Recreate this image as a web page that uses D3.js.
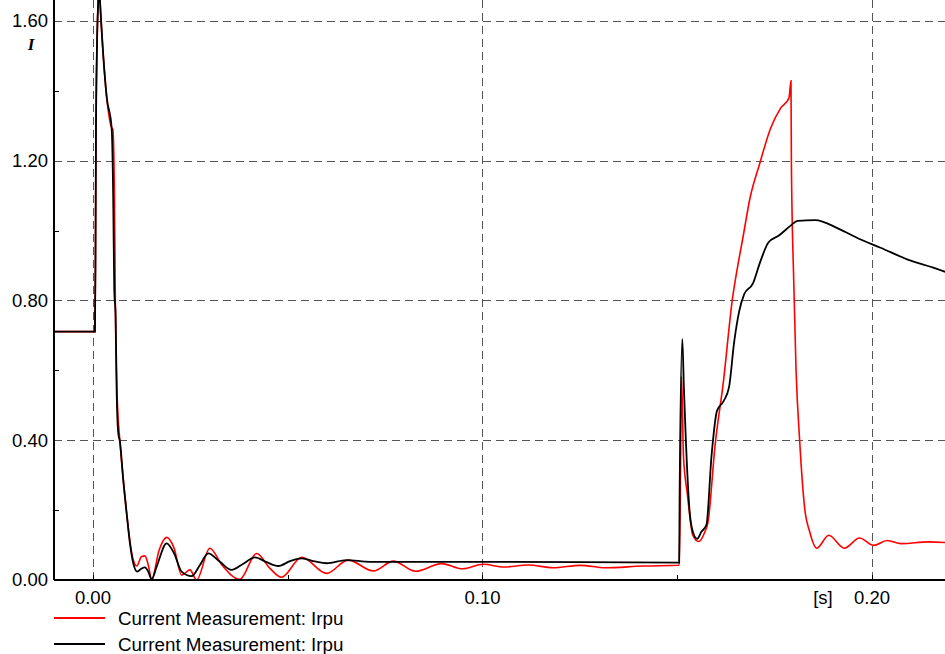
<!DOCTYPE html>
<html>
<head>
<meta charset="utf-8">
<script src="https://cdn.jsdelivr.net/npm/d3@7"></script>
<style>
  html, body { margin: 0; padding: 0; background: #fff; }
  svg { display: block; font-family: "Liberation Sans", Arial, sans-serif; }
</style>
</head>
<body>
<div id="chart"></div>
<script>
// time in seconds, current in pu
const xTicks = [0.00, 0.10, 0.20];
const xMinorTicks = [0.05, 0.15];
const yTicks = [0.00, 0.40, 0.80, 1.20, 1.60];
const yMinorTicks = [0.20, 0.60, 1.00, 1.40];
const legendLabels = ['Current Measurement: Irpu', 'Current Measurement: Irpu'];

const redTime = [-0.0100, 0.00051, 0.00064, 0.00077, 0.00103, 0.00136, 0.00154, 0.0018, 0.00352, 0.0048,
  0.0051, 0.00552, 0.00578, 0.0062, 0.0069, 0.0078, 0.00865, 0.0095, 0.01035, 0.01122,
  0.0125, 0.01335, 0.0142, 0.01507, 0.0170, 0.01892, 0.0208, 0.02277, 0.0249, 0.0266,
  0.0300, 0.0331, 0.0377, 0.0420, 0.0454, 0.0484, 0.0536, 0.0600, 0.0655, 0.0720,
  0.0771, 0.0828, 0.0895, 0.0949, 0.1002, 0.1055, 0.1118, 0.1181, 0.1252, 0.1315,
  0.1412, 0.1505, 0.15077, 0.1511, 0.1516, 0.1526, 0.1540, 0.1555, 0.1571, 0.1579,
  0.1597, 0.1619, 0.1641, 0.1655, 0.1668, 0.1687, 0.1712, 0.1739, 0.1765, 0.1787,
  0.1792, 0.1793, 0.1799, 0.1805, 0.1814, 0.1827, 0.1840, 0.1858, 0.1889, 0.1929,
  0.1968, 0.2004, 0.2039, 0.2074, 0.2145, 0.2210];
const redValue = [0.711, 0.711, 0.899, 1.274, 1.526, 1.660, 1.717, 1.660, 1.383, 1.294,
  1.290, 1.096, 0.753, 0.530, 0.400, 0.286, 0.191, 0.110, 0.057, 0.040,
  0.067, 0.069, 0.043, 0.002, 0.086, 0.122, 0.092, 0.014, 0.029, 0.000,
  0.091, 0.043, 0.002, 0.076, 0.034, 0.008, 0.065, 0.019, 0.057, 0.026,
  0.054, 0.025, 0.047, 0.032, 0.045, 0.037, 0.043, 0.035, 0.042, 0.035,
  0.040, 0.042, 0.218, 0.582, 0.355, 0.246, 0.128, 0.110, 0.138, 0.166,
  0.384, 0.572, 0.799, 0.897, 0.976, 1.094, 1.193, 1.291, 1.350, 1.380,
  1.429, 1.200, 0.857, 0.601, 0.404, 0.207, 0.138, 0.091, 0.128, 0.091,
  0.120, 0.099, 0.113, 0.104, 0.109, 0.106];

const blackTime = [-0.0100, 0.00051, 0.00064, 0.00077, 0.00103, 0.00136, 0.00154, 0.0018, 0.00352, 0.0048,
  0.00521, 0.00547, 0.00583, 0.00608, 0.0065, 0.00693, 0.00778, 0.00865, 0.0095, 0.01035,
  0.01137, 0.0125, 0.01335, 0.0142, 0.01507, 0.01635, 0.01892, 0.0208, 0.02277, 0.02534,
  0.02747, 0.0296, 0.0326, 0.0356, 0.0385, 0.0416, 0.0444, 0.0476, 0.0506, 0.0536,
  0.0570, 0.0600, 0.0651, 0.0711, 0.0994, 0.1505, 0.1506, 0.1513, 0.1517, 0.1522,
  0.1531, 0.1540, 0.1551, 0.1562, 0.1575, 0.1588, 0.1602, 0.1619, 0.1633, 0.1646,
  0.1659, 0.1672, 0.1694, 0.1712, 0.1734, 0.1761, 0.1792, 0.1809, 0.1854, 0.1915,
  0.1968, 0.2022, 0.2092, 0.2163, 0.2210];
const blackValue = [0.711, 0.711, 0.899, 1.274, 1.526, 1.660, 1.717, 1.660, 1.383, 1.294,
  1.088, 0.830, 0.754, 0.544, 0.420, 0.396, 0.286, 0.191, 0.105, 0.048,
  0.024, 0.033, 0.036, 0.024, 0.002, 0.038, 0.105, 0.077, 0.024, 0.011,
  0.043, 0.076, 0.052, 0.029, 0.046, 0.065, 0.052, 0.040, 0.054, 0.062,
  0.053, 0.048, 0.057, 0.052, 0.052, 0.050, 0.227, 0.690, 0.552, 0.404,
  0.207, 0.138, 0.118, 0.138, 0.158, 0.355, 0.484, 0.512, 0.552, 0.680,
  0.769, 0.818, 0.848, 0.907, 0.966, 0.986, 1.015, 1.028, 1.030, 1.005,
  0.976, 0.951, 0.917, 0.892, 0.873];

const width = 945, height = 654;
const plotLeft = 54, plotRight = 945, plotTop = 0, plotBottom = 580;

const svg = d3.select('#chart')
    .append('svg')
    .attr('width', width)
    .attr('height', height);

const x = d3.scaleLinear().domain([-0.01, 0.21874]).range([plotLeft, plotRight]);
const y = d3.scaleLinear().domain([0, 1.66]).range([plotBottom, plotTop]);

svg.append('defs').append('clipPath')
    .attr('id', 'plot-clip')
    .append('rect')
    .attr('x', plotLeft).attr('y', plotTop)
    .attr('width', plotRight - plotLeft).attr('height', plotBottom - plotTop);

// dashed grid
const grid = svg.append('g')
    .attr('stroke', '#555')
    .attr('stroke-width', 1)
    .attr('stroke-dasharray', '8,5');
grid.selectAll('line.h')
    .data(yTicks.filter(d => d > 0))
    .enter().append('line')
    .attr('x1', plotLeft).attr('x2', plotRight)
    .attr('y1', d => Math.round(y(d)) + 0.5)
    .attr('y2', d => Math.round(y(d)) + 0.5);
grid.selectAll('line.v')
    .data(xTicks)
    .enter().append('line')
    .attr('y1', plotTop).attr('y2', plotBottom)
    .attr('x1', d => Math.round(x(d)) + 0.5)
    .attr('x2', d => Math.round(x(d)) + 0.5);

// series
const toPoints = (ts, vs) => ts.map((t, i) => [t, vs[i]]);
const line = d3.line()
    .x(d => x(d[0]))
    .y(d => y(d[1]))
    .curve(d3.curveMonotoneX);
const plot = svg.append('g').attr('clip-path', 'url(#plot-clip)');
plot.append('path')
    .datum(toPoints(redTime, redValue))
    .attr('fill', 'none')
    .attr('stroke', '#ff0000')
    .attr('stroke-width', 1.6)
    .attr('d', line);
plot.append('path')
    .datum(toPoints(blackTime, blackValue))
    .attr('fill', 'none')
    .attr('stroke', '#000')
    .attr('stroke-width', 1.8)
    .attr('d', line);

// axes
svg.append('line')
    .attr('x1', plotLeft).attr('x2', plotLeft)
    .attr('y1', plotTop).attr('y2', plotBottom)
    .attr('stroke', '#000').attr('stroke-width', 2);
svg.append('line')
    .attr('x1', plotLeft).attr('x2', plotRight)
    .attr('y1', plotBottom).attr('y2', plotBottom)
    .attr('stroke', '#000').attr('stroke-width', 2);

svg.append('g').selectAll('line')
    .data(yMinorTicks)
    .enter().append('line')
    .attr('x1', plotLeft).attr('x2', plotLeft + 5)
    .attr('y1', d => Math.round(y(d)) + 0.5)
    .attr('y2', d => Math.round(y(d)) + 0.5)
    .attr('stroke', '#000');
svg.append('g').selectAll('line')
    .data(xTicks.concat(xMinorTicks))
    .enter().append('line')
    .attr('x1', d => Math.round(x(d)) + 0.5)
    .attr('x2', d => Math.round(x(d)) + 0.5)
    .attr('y1', plotBottom).attr('y2', plotBottom - 5)
    .attr('stroke', '#000');

svg.append('g').selectAll('text')
    .data(yTicks)
    .enter().append('text')
    .attr('x', 48)
    .attr('y', d => y(d))
    .attr('dy', '0.35em')
    .attr('text-anchor', 'end')
    .attr('font-size', 18.5)
    .text(d => d.toFixed(2));
svg.append('g').selectAll('text')
    .data(xTicks)
    .enter().append('text')
    .attr('x', d => x(d))
    .attr('y', 604)
    .attr('text-anchor', 'middle')
    .attr('font-size', 18.5)
    .text(d => d.toFixed(2));

svg.append('text')
    .attr('x', 823)
    .attr('y', 604)
    .attr('text-anchor', 'middle')
    .attr('font-size', 18.5)
    .text('[s]');
svg.append('text')
    .attr('x', 31)
    .attr('y', 50)
    .attr('text-anchor', 'middle')
    .attr('font-family', '"Liberation Serif", "Times New Roman", serif')
    .attr('font-style', 'italic')
    .attr('font-weight', 'bold')
    .attr('font-size', 17)
    .text('I');

// legend
const legendColors = ['#ff0000', '#000'];
const legend = svg.append('g').selectAll('g')
    .data(legendLabels)
    .enter().append('g')
    .attr('transform', (d, i) => `translate(0, ${618 + i * 26})`);
legend.append('line')
    .attr('x1', 54).attr('x2', 105)
    .attr('stroke', (d, i) => legendColors[i])
    .attr('stroke-width', 1.8);
legend.append('text')
    .attr('x', 118)
    .attr('y', 6.5)
    .attr('font-size', 18.8)
    .text(d => d);
</script>
</body>
</html>
